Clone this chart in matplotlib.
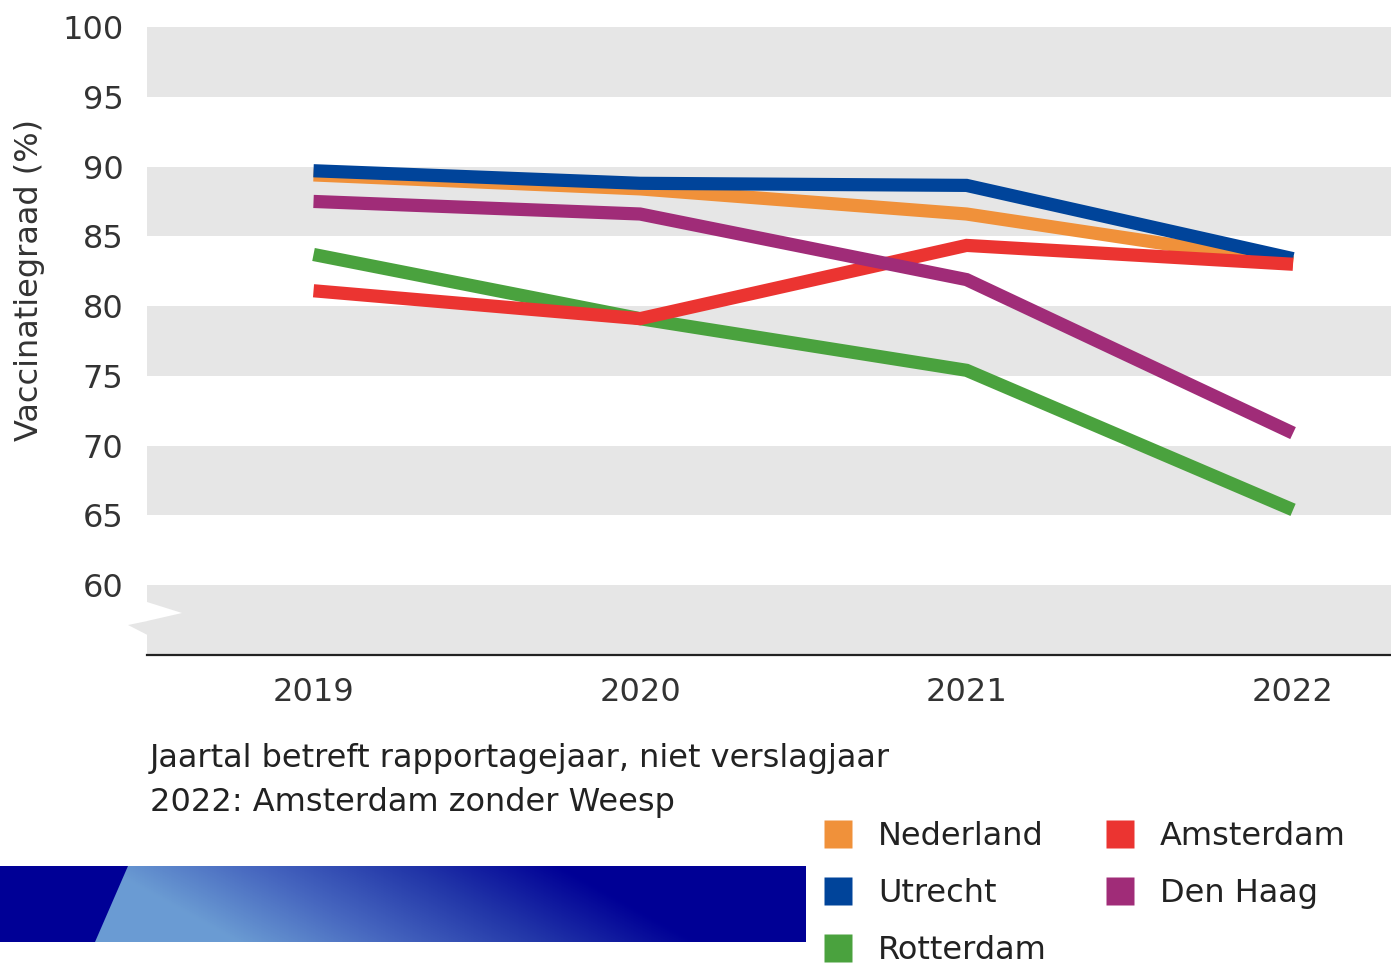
import numpy as np
import matplotlib
matplotlib.use("Agg")
import matplotlib.pyplot as plt
from matplotlib.lines import Line2D
from matplotlib.patches import Polygon
from matplotlib.colors import LinearSegmentedColormap

plt.rcParams['font.family'] = ['DejaVu Sans']

years = [2019, 2020, 2021, 2022]
nederland = [89.4, 88.4, 86.6, 83.1]
utrecht = [89.7, 88.8, 88.65, 83.4]
amsterdam = [81.1, 79.1, 84.35, 83.0]
den_haag = [87.5, 86.6, 81.9, 70.9]
rotterdam = [83.7, 79.1, 75.4, 65.4]

series = [
    ("Nederland", nederland, "#F0913A"),
    ("Utrecht", utrecht, "#00449A"),
    ("Rotterdam", rotterdam, "#4AA23E"),
    ("Amsterdam", amsterdam, "#EB3431"),
    ("Den Haag", den_haag, "#A02C78"),
]
y_ticks = [60, 65, 70, 75, 80, 85, 90, 95, 100]
note_lines = ["Jaartal betreft rapportagejaar, niet verslagjaar",
              "2022: Amsterdam zonder Weesp"]

W, H = 1391, 964
fig = plt.figure(figsize=(W / 100, H / 100), dpi=100)

def fx(x):
    return x / W

def fy(y):
    return 1 - y / H

FS = 23

ax = fig.add_axes([fx(147), fy(655), fx(1391) - fx(147), fy(27) - fy(655)])
ax.set_ylim(55, 100)
ax.set_xlim(2018.49, 2022.30)
for lo in [55, 65, 75, 85, 95]:
    ax.axhspan(lo, lo + 5, color="#E6E6E6", lw=0, zorder=0)

for name, vals, col in series:
    ax.plot(years, vals, color=col, lw=9.5, solid_capstyle="butt",
            solid_joinstyle="miter", zorder=3)

ax.set_xticks(years)
ax.set_xticklabels([str(y) for y in years], fontsize=FS, color="#333333")
ax.set_yticks(y_ticks)
ax.set_yticklabels([str(v) for v in y_ticks], fontsize=FS, color="#333333")
ax.tick_params(axis="both", length=0)
ax.tick_params(axis="y", pad=17)
ax.tick_params(axis="x", pad=16)
for s in ["top", "right", "left"]:
    ax.spines[s].set_visible(False)
ax.spines["bottom"].set_linewidth(1.6)
ax.spines["bottom"].set_color("#222222")

# axis break marker
white_tri = Polygon([(fx(147), fy(602)), (fx(182), fy(613)), (fx(147), fy(621))],
                    closed=True, transform=fig.transFigure, color="white", lw=0, zorder=5)
gray_tri = Polygon([(fx(147.5), fy(621)), (fx(128), fy(625)), (fx(147.5), fy(635))],
                   closed=True, transform=fig.transFigure, color="#E6E6E6", lw=0, zorder=5)
fig.patches.extend([white_tri, gray_tri])

fig.text(fx(30), fy(280), "Vaccinatiegraad (%)", rotation=90, fontsize=FS,
         color="#333333", ha="center", va="center")

fig.text(fx(150), fy(758), note_lines[0], fontsize=FS, color="#222222", va="center", ha="left")
fig.text(fx(150), fy(802), note_lines[1], fontsize=FS, color="#222222", va="center", ha="left")

# gradient bar
bax = fig.add_axes([0, fy(942), fx(806), fy(866) - fy(942)])
bw, bh = 806, 76
xx, yy = np.meshgrid(np.arange(bw), np.arange(bh))
t = (xx - 1.8 * yy - 100) / (560 - 100)
t = np.clip(t, 0, 1)
cmap = LinearSegmentedColormap.from_list("bar", ["#6B9CD3", "#4666BF", "#2236A8", "#000096"])
bax.imshow(t, cmap=cmap, aspect="auto", extent=[0, bw, bh, 0], vmin=0, vmax=1)
bax.add_patch(Polygon([(0, 0), (128, 0), (95, bh), (0, bh)], closed=True,
                      color="#000096", lw=0))
bax.set_xlim(0, bw)
bax.set_ylim(bh, 0)
bax.axis("off")

handles = [Line2D([], [], marker="s", markersize=20, linestyle="none",
                  markerfacecolor=c, markeredgecolor="none") for _, _, c in series]
labels = [n for n, _, _ in series]
fig.legend(handles, labels, ncol=2, loc="upper left",
           bbox_to_anchor=(fx(806), fy(805)), frameon=False, fontsize=FS,
           handlelength=1.0, handletextpad=0.75, columnspacing=1.8,
           labelspacing=0.82, borderpad=0, labelcolor="#222222")

fig.savefig("out.png", dpi=100)
